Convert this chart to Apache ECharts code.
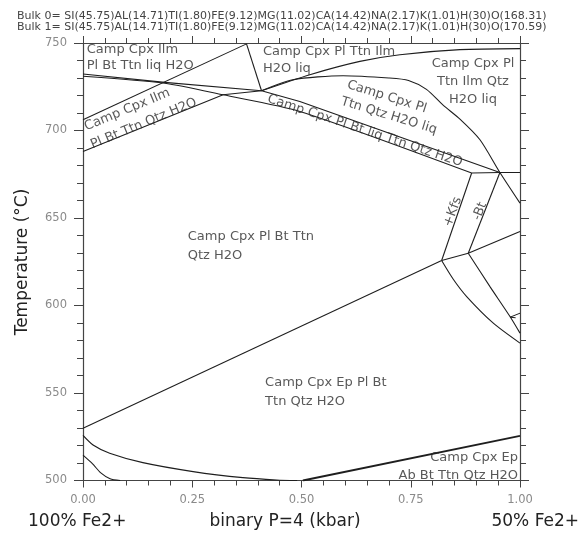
<!DOCTYPE html>
<html>
<head>
<meta charset="utf-8">
<script src="https://cdn.jsdelivr.net/npm/echarts@6.0.0/dist/echarts.min.js"></script>
<style>html,body{margin:0;padding:0;background:#fff;}#c{width:585px;height:539px;}</style>
</head>
<body>
<div id="c"></div>
<script>
// ---- data (x = binary fraction, T = temperature °C) ----
const xTickLabels = ['0.00','0.25','0.50','0.75','1.00'];
const yTickLabels = ['500','550','600','650','700','750'];

const lineA = [[0,732.3],[0.187,727.5],[0.4085,722.7]];
const lineB = [[0,731.0],[0.187,727.0],[0.3206,720.4],[0.4962,710.9],[0.8894,675.7]];
const lineC = [[0,706.1],[0.3742,749.5]];
const lineD = [[0,688.0],[0.3206,720.4],[0.4085,722.7]];
const lineE = [[0.3742,749.5],[0.4085,722.7]];
const lineF = [[0.4085,722.7],[0.5191,731.9],[0.6336,739.5],[0.7252,743.3],[0.8626,746.2],[1,746.8]];
const curveG = [[0.4085,722.7],[0.48,729.0],[0.595,731.3],[0.70,730.0],[0.745,728.6],[0.786,723.5],[0.824,714.5],[0.8626,706.5],[0.9084,694.7],[0.954,676.0],[1.0,658.5]];
const lineH = [[0.4085,722.7],[0.4962,716.6],[0.954,676.0]];
const lineJ3J2 = [[0.8894,675.7],[0.954,676.0],[1,676.0]];
const lineKfs = [[0.8894,675.7],[0.8207,625.7]];
const lineBt = [[0.954,676.0],[0.8816,629.9]];
const lineJ4J5 = [[0.8207,625.7],[0.8816,629.9]];
const lineJ5R = [[0.8816,629.9],[1,642.3]];
const lineDiag = [[0,529.9],[0.8207,625.7]];
const curveJ4 = [[0.8207,625.7],[0.8473,615.0],[0.878,605.1],[0.9389,589.9],[1,578.5]];
const curveJ5 = [[0.8816,629.9],[0.9313,610.8],[0.9771,593.7],[1,584.2]];
const wedgeA = [[0.9771,593.3],[1,595.6]];
const wedgeB = [[0.9771,593.3],[0.99,593.0]];
const curveB1 = [[0,525.8],[0.023,520.3],[0.061,515.6],[0.137,510.2],[0.252,505.1],[0.366,501.6],[0.443,500.3],[0.49,500.0]];
const curveB2 = [[0,514.5],[0.022,509.5],[0.04,504.5],[0.062,501.0],[0.085,500.0]];
const lineBR = [[0.5031,500.0],[1,525.5]];

const regionTexts = [
  'Camp Cpx Ilm','Pl Bt Ttn liq H2O',
  'Camp Cpx Pl Ttn Ilm','H2O liq',
  'Camp Cpx Pl','Ttn Ilm Qtz','H2O liq',
  'Camp Cpx Pl','Ttn Qtz H2O liq',
  'Camp Cpx Pl Bt liq Ttn Qtz H2O',
  'Camp Cpx Ilm','Pl Bt Ttn Qtz H2O',
  'Camp Cpx Pl Bt Ttn','Qtz H2O',
  'Camp Cpx Ep Pl Bt','Ttn Qtz H2O',
  'Camp Cpx Ep','Ab Bt Ttn Qtz H2O',
  '+Kfs','-Bt'
];
const regionAnchors = [
  [0.0085,746.2],[0.0085,737.0],
  [0.4117,745.0],[0.4117,735.3],
  [0.8924,738.4],[0.8924,728.0],[0.8924,717.6],
  [0.6954,719.2],[0.7000,708.4],
  [0.6451,699.8],
  [0.1012,711.8],[0.1390,703.9],
  [0.2398,639.2],[0.2398,628.3],
  [0.4167,555.8],[0.4167,545.1],
  [0.9954,513.1],[0.9954,502.8],
  [0.8465,653.5],[0.9084,653.9]
];
const bulkLines = [
  'Bulk 0= SI(45.75)AL(14.71)TI(1.80)FE(9.12)MG(11.02)CA(14.42)NA(2.17)K(1.01)H(30)O(168.31)',
  'Bulk 1= SI(45.75)AL(14.71)TI(1.80)FE(9.12)MG(11.02)CA(14.42)NA(2.17)K(1.01)H(30)O(170.59)'
];
const yName = 'Temperature (°C)';
const bottomTexts = ['100% Fe2+','binary P=4 (kbar)','50% Fe2+'];

// ---- styling / layout ----
const FONT = 'DejaVu Sans';
const lineSets = [
  [lineA,1.1],[lineB,1.1],[lineC,1.1],[lineD,1.1],[lineE,1.1],[lineF,1.1],[curveG,1.1],[lineH,1.1],
  [lineJ3J2,1.1],[lineKfs,1.1],[lineBt,1.1],[lineJ4J5,1.1],[lineJ5R,1.1],[lineDiag,1.1],
  [curveJ4,1.1],[curveJ5,1.1],[wedgeA,1],[wedgeB,1],[curveB1,1.2],[curveB2,1.1],[lineBR,1.8]
];
const series = lineSets.map(([d,w]) => ({
  type:'line', data:d, showSymbol:false, symbol:'none', smooth:d.length>3?0.25:0,
  lineStyle:{color:'#1e1e1e', width:w}, silent:true, animation:false, z:3
}));

const labelStyle = [
  {a:'left',r:0},{a:'left',r:0},
  {a:'left',r:0},{a:'left',r:0},
  {a:'center',r:0},{a:'center',r:0},{a:'center',r:0},
  {a:'center',r:-17.5},{a:'center',r:-17},
  {a:'center',r:-18.4},
  {a:'center',r:22.5},{a:'center',r:22.5},
  {a:'left',r:0},{a:'left',r:0},
  {a:'left',r:0},{a:'left',r:0},
  {a:'right',r:0},{a:'right',r:0},
  {a:'center',r:70},{a:'center',r:68}
];
series.push({
  type:'scatter', symbolSize:0, silent:true, animation:false, z:5,
  data: regionAnchors.map((p,i)=>({
    value:p,
    label:{show:true, position:'inside', formatter:regionTexts[i], align:labelStyle[i].a,
      verticalAlign:'middle', rotate:labelStyle[i].r, color:'#2e2e2e', fontSize:13, fontFamily:FONT}
  }))
});

const tickStyle = {color:'#444', width:1};
function xAx(pos, showLabel){
  return {type:'value', min:0, max:1, interval:0.25, position:pos,
    axisLine:{show:true, onZero:false, lineStyle:{color:'#444', width:1.2}},
    axisTick:{show:true, inside:false, length:7, lineStyle:tickStyle},
    minorTick:{show:true, splitNumber:5, length:5, lineStyle:tickStyle},
    splitLine:{show:false}, minorSplitLine:{show:false},
    axisLabel:{show:showLabel, margin:14, color:'#8a8a8a', fontSize:11.5, fontFamily:FONT,
      formatter:(v)=>xTickLabels[Math.round(v/0.25)]}
  };
}
function yAx(pos, showLabel){
  return {type:'value', min:500, max:750, interval:50, position:pos,
    axisLine:{show:true, onZero:false, lineStyle:{color:'#444', width:1.2}},
    axisTick:{show:true, inside:false, length:9, lineStyle:tickStyle},
    minorTick:{show:true, splitNumber:5, length:6, lineStyle:tickStyle},
    splitLine:{show:false}, minorSplitLine:{show:false},
    axisLabel:{show:showLabel, margin:16, color:'#8a8a8a', fontSize:11.5, fontFamily:FONT,
      formatter:(v)=>yTickLabels[Math.round((v-500)/50)]}
  };
}

const chart = echarts.init(document.getElementById('c'), null, {renderer:'canvas'});
chart.setOption({
  animation:false,
  backgroundColor:'#fff',
  grid:{left:83, top:43, width:437, height:437.5},
  xAxis:[xAx('bottom',true), xAx('top',false)],
  yAxis:[yAx('left',true), yAx('right',false)],
  series: series,
  graphic:[
    {type:'text', left:17, top:11, style:{text:bulkLines[0], font:'11px "DejaVu Sans"', fill:'#444'}},
    {type:'text', left:17, top:22, style:{text:bulkLines[1], font:'11px "DejaVu Sans"', fill:'#444'}},
    {type:'text', x:23, y:262, rotation:Math.PI/2,
      style:{text:yName, font:'17px "DejaVu Sans"', fill:'#222', textAlign:'center', textVerticalAlign:'middle'}},
    {type:'text', x:28, y:522, style:{text:bottomTexts[0], font:'17px "DejaVu Sans"', fill:'#222', textAlign:'left', textVerticalAlign:'middle'}},
    {type:'text', x:285, y:522, style:{text:bottomTexts[1], font:'17px "DejaVu Sans"', fill:'#222', textAlign:'center', textVerticalAlign:'middle'}},
    {type:'text', x:579, y:522, style:{text:bottomTexts[2], font:'17px "DejaVu Sans"', fill:'#222', textAlign:'right', textVerticalAlign:'middle'}}
  ]
});
</script>
</body>
</html>
